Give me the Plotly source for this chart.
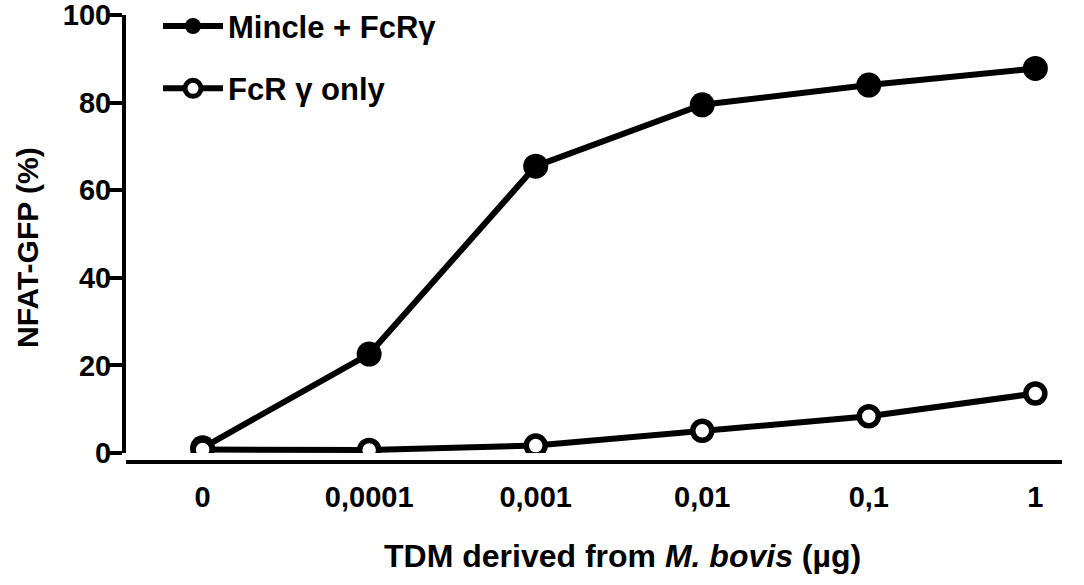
import plotly.graph_objects as go

categories = ["0", "0,0001", "0,001", "0,01", "0,1", "1"]
mincle_fcr = [1.2, 22.6, 65.5, 79.5, 84.0, 87.8]
fcr_only = [0.8, 0.7, 1.7, 5.1, 8.4, 13.6]
y_ticks = [0, 20, 40, 60, 80, 100]

FONT = "Liberation Sans, Arial, sans-serif"

fig = go.Figure()
fig.add_trace(go.Scatter(
    x=categories, y=mincle_fcr, mode="lines+markers",
    name="Mincle + FcRγ", legendgroup="a",
    line=dict(color="black", width=6),
    marker=dict(symbol="circle", size=25, color="black", line=dict(width=0)),
))
fig.add_trace(go.Scatter(
    x=categories, y=fcr_only, mode="lines+markers",
    name="FcR γ only", legendgroup="b",
    line=dict(color="black", width=6),
    marker=dict(symbol="circle", size=19, color="white", line=dict(color="black", width=5.5)),
))

fig.update_layout(
    width=1084, height=585,
    margin=dict(l=126, r=22, t=15, b=123, autoexpand=False),
    paper_bgcolor="white", plot_bgcolor="white",
    font=dict(family=FONT, color="black", size=29, weight=700),
    showlegend=True,
    legend=dict(
        x=0.0342, y=1.035, xanchor="left", yanchor="top",
        font=dict(family=FONT, size=31, color="black", weight=700),
        bgcolor="rgba(0,0,0,0)", tracegroupgap=19, itemwidth=60,
    ),
    xaxis=dict(
        type="category", range=[-0.46, 5.16],
        anchor="free", position=0, automargin=False,
        showline=True, linecolor="black", linewidth=4,
        ticks="", showgrid=False, zeroline=False,
        tickfont=dict(family=FONT, size=29, weight=700),
        ticklabelstandoff=8,
    ),
    yaxis=dict(
        domain=[0.02, 1], range=[0, 100], automargin=False,
        tickvals=y_ticks, ticktext=[str(v) for v in y_ticks],
        showline=True, linecolor="black", linewidth=4,
        ticks="outside", ticklen=13, tickwidth=4, tickcolor="black",
        showgrid=False, zeroline=False,
        tickfont=dict(family=FONT, size=29, weight=700),
        ticklabelstandoff=-8, ticklabeloverflow="allow",
    ),
    annotations=[
        dict(text="TDM derived from <i>M. bovis</i> (µg)", xref="paper", yref="paper",
             x=0.53, y=-0.21, xanchor="center", yanchor="middle", showarrow=False,
             font=dict(family=FONT, size=32, color="black", weight=700)),
        dict(text="NFAT-GFP (%)", xref="paper", yref="paper", textangle=-90,
             x=-0.1047, y=0.479, xanchor="center", yanchor="middle", showarrow=False,
             font=dict(family=FONT, size=30, color="black", weight=700)),
    ],
)

fig.write_html("out.html", config={"displayModeBar": False},
               post_script="document.body.style.margin='0px';")
